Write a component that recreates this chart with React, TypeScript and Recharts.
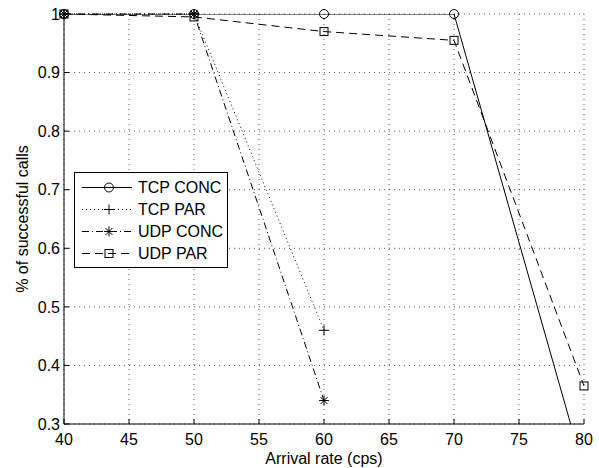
import React from "react";
import { LineChart, Line, XAxis, YAxis, CartesianGrid, Legend } from "recharts";

const rates = [40, 50, 60, 70, 80];
const tcpConc = [1, 1, 1, 1, 0.22];
const tcpPar = [1, 1, 0.46, null, null];
const udpConc = [1, 1, 0.34, null, null];
const udpPar = [1, 0.995, 0.97, 0.955, 0.365];

const xTicks = [40, 45, 50, 55, 60, 65, 70, 75, 80];
const yTicks = [0.3, 0.4, 0.5, 0.6, 0.7, 0.8, 0.9, 1];

const data = rates.map((x, i) => ({
  x,
  tcpConc: tcpConc[i],
  tcpPar: tcpPar[i],
  udpConc: udpConc[i],
  udpPar: udpPar[i],
}));

const series = [
  { key: "tcpConc", name: "TCP CONC", dash: undefined, marker: "circle" },
  { key: "tcpPar", name: "TCP PAR", dash: "1 3", marker: "plus" },
  { key: "udpConc", name: "UDP CONC", dash: "7 3 1 3", marker: "star" },
  { key: "udpPar", name: "UDP PAR", dash: "8 5", marker: "square" },
];

const FONT = "'Liberation Sans', Arial, Helvetica, sans-serif";

function Marker({ kind, cx, cy }: { kind: string; cx: number; cy: number }) {
  if (kind === "circle") return <circle cx={cx} cy={cy} r={4.5} fill="none" stroke="#000" />;
  if (kind === "plus")
    return <path d={`M${cx - 5},${cy}H${cx + 5}M${cx},${cy - 5}V${cy + 5}`} stroke="#000" fill="none" />;
  if (kind === "star")
    return (
      <path
        d={`M${cx - 5},${cy}H${cx + 5}M${cx},${cy - 5}V${cy + 5}M${cx - 3.5},${cy - 3.5}L${cx + 3.5},${cy + 3.5}M${cx - 3.5},${cy + 3.5}L${cx + 3.5},${cy - 3.5}`}
        stroke="#000"
        fill="none"
      />
    );
  return <rect x={cx - 4} y={cy - 4} width={8} height={8} fill="none" stroke="#000" />;
}

const makeDot = (kind: string) => (p: any) => {
  if (p.value == null || p.cy == null || p.cx == null) return <g key={p.key} />;
  return (
    <g key={p.key}>
      <Marker kind={kind} cx={p.cx} cy={p.cy} />
    </g>
  );
};

const BottomTick = (p: any) => (
  <g>
    <line x1={p.x} y1={p.y} x2={p.x} y2={p.y - 5} stroke="#000" />
    <text x={p.x} y={p.y + 21} textAnchor="middle" fontSize={16} fontFamily={FONT} fill="#000">
      {p.payload.value}
    </text>
  </g>
);

const TopTick = (p: any) => <line x1={p.x} y1={p.y} x2={p.x} y2={p.y + 5} stroke="#000" />;

const LeftTick = (p: any) => (
  <g>
    <line x1={p.x} y1={p.y} x2={p.x + 5} y2={p.y} stroke="#000" />
    <text x={p.x - 4} y={p.y} dy="0.36em" textAnchor="end" fontSize={16} fontFamily={FONT} fill="#000">
      {p.payload.value === 1 ? "1" : p.payload.value.toFixed(1)}
    </text>
  </g>
);

const RightTick = (p: any) => <line x1={p.x} y1={p.y} x2={p.x - 5} y2={p.y} stroke="#000" />;

const LegendBox = () => (
  <svg width={154} height={96} style={{ display: "block" }}>
    <rect x={0.5} y={0.5} width={153} height={95} fill="#fff" stroke="#000" />
    {series.map((s, i) => {
      const y = 15.5 + i * 22;
      return (
        <g key={s.key}>
          <line x1={8} x2={58} y1={y} y2={y} stroke="#000" strokeDasharray={s.dash} />
          <Marker kind={s.marker} cx={35} cy={y} />
          <text x={64} y={y} dy="0.36em" fontSize={16} fontFamily={FONT} fill="#000">
            {s.name}
          </text>
        </g>
      );
    })}
  </svg>
);

export default function App() {
  return (
    <div style={{ width: 599, height: 468, background: "#fff", fontFamily: FONT }}>
      <style>{`body{margin:0}`}</style>
      <LineChart width={599} height={468} data={data} margin={{ top: 14, right: 15, bottom: 0, left: 0 }}>
        <CartesianGrid stroke="#555" strokeDasharray="1 4" />
        <XAxis
          dataKey="x"
          type="number"
          domain={[40, 80]}
          ticks={xTicks}
          height={44}
          stroke="#000"
          tickSize={0}
          tickMargin={0}
          tick={BottomTick}
          interval={0}
          label={{ value: "Arrival rate (cps)", position: "insideBottom", offset: 4, fontSize: 16, fontFamily: FONT, fill: "#000" }}
        />
        <XAxis
          xAxisId="top"
          orientation="top"
          type="number"
          domain={[40, 80]}
          ticks={xTicks}
          height={0}
          stroke="#000"
          tickSize={0}
          tickMargin={0}
          tick={TopTick}
          interval={0}
        />
        <YAxis
          type="number"
          domain={[0.3, 1]}
          ticks={yTicks}
          width={64}
          stroke="#000"
          tickSize={0}
          tickMargin={0}
          tick={LeftTick}
          interval={0}
          label={{ value: "% of successful calls", angle: -90, position: "insideLeft", offset: 22, fontSize: 16, fontFamily: FONT, fill: "#000", style: { textAnchor: "middle" } }}
        />
        <YAxis yAxisId="clip" hide type="number" domain={[0.3, 1]} allowDataOverflow />
        <YAxis
          yAxisId="right"
          orientation="right"
          type="number"
          domain={[0.3, 1]}
          ticks={yTicks}
          width={0}
          stroke="#000"
          tickSize={0}
          tickMargin={0}
          tick={RightTick}
          interval={0}
        />
        <Line
          yAxisId="clip"
          dataKey="tcpConc"
          stroke="#000"
          strokeWidth={1}
          dot={{ clipDot: false, r: 4.5, fill: "none", stroke: "#000", strokeWidth: 1 }}
          isAnimationActive={false}
        />
        <Line
          dataKey="tcpPar"
          stroke="#000"
          strokeWidth={1}
          strokeDasharray="1 3"
          dot={makeDot("plus")}
          isAnimationActive={false}
        />
        <Line
          dataKey="udpConc"
          stroke="#000"
          strokeWidth={1}
          strokeDasharray="7 3 1 3"
          dot={makeDot("star")}
          isAnimationActive={false}
        />
        <Line
          dataKey="udpPar"
          stroke="#000"
          strokeWidth={1}
          strokeDasharray="8 5"
          dot={makeDot("square")}
          isAnimationActive={false}
        />
        <Legend
          content={LegendBox}
          layout="vertical"
          align="center"
          verticalAlign="middle"
          wrapperStyle={{ left: 74, top: 172, width: 154, height: 96 }}
        />
      </LineChart>
    </div>
  );
}
